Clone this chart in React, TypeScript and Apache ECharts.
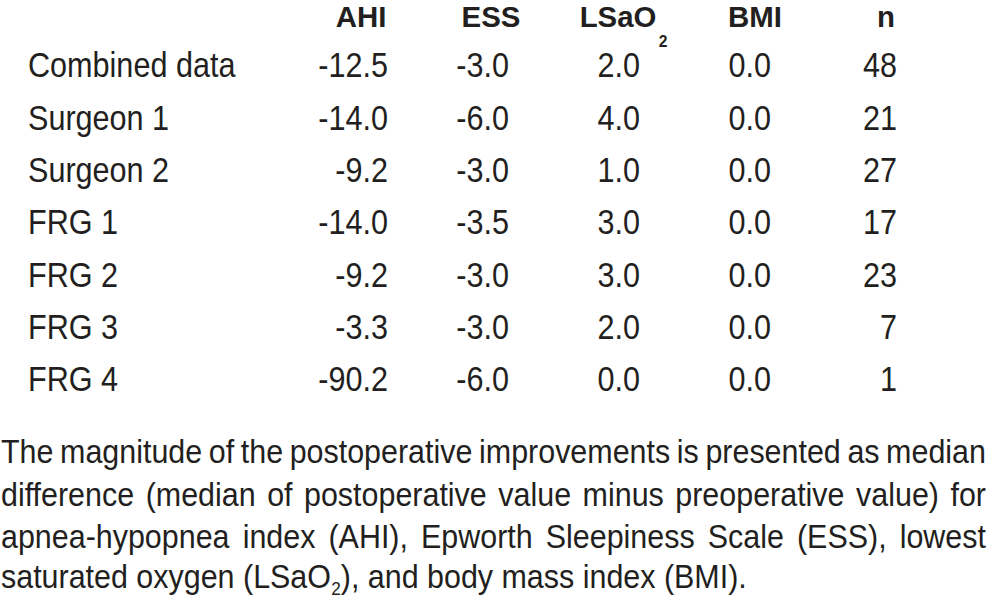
import React, { useEffect, useRef } from "react";
import * as echarts from "echarts";

const headers = ["AHI", "ESS", "LSaO", "BMI", "n"];
const rowLabels = ["Combined data", "Surgeon 1", "Surgeon 2", "FRG 1", "FRG 2", "FRG 3", "FRG 4"];
const ahi = [-12.5, -14.0, -9.2, -14.0, -9.2, -3.3, -90.2];
const ess = [-3.0, -6.0, -3.0, -3.5, -3.0, -3.0, -6.0];
const lsao2 = [2.0, 4.0, 1.0, 3.0, 3.0, 2.0, 0.0];
const bmi = [0.0, 0.0, 0.0, 0.0, 0.0, 0.0, 0.0];
const nCount = [48, 21, 27, 17, 23, 7, 1];
const captionJustified = [
  "The magnitude of the postoperative improvements is presented as median",
  "difference (median of postoperative value minus preoperative value) for",
  "apnea-hypopnea index (AHI), Epworth Sleepiness Scale (ESS), lowest",
];
const captionLastA = "saturated oxygen (LSaO";
const captionLastSub = "2";
const captionLastB = "), and body mass index (BMI).";

const FONT = "'Liberation Sans', Arial, Helvetica, sans-serif";
const COLOR = "#231f20";

export default function App() {
  const ref = useRef<HTMLDivElement>(null);
  useEffect(() => {
    if (!ref.current) return;
    const chart = echarts.init(ref.current, null, { renderer: "svg" });
    const canvas = document.createElement("canvas");
    const ctx = canvas.getContext("2d")!;
    const measure = (s: string, size: number, weight = "normal") => {
      ctx.font = `${weight} ${size}px ${FONT}`;
      return ctx.measureText(s).width;
    };
    const txt = (x: number, y: number, text: string, size: number, align: string, sx: number, weight = "normal") => ({
      type: "text",
      x,
      y,
      scaleX: sx,
      style: { text, font: `${weight} ${size}px ${FONT}`, fill: COLOR, align, verticalAlign: "middle" },
    });

    const elements: any[] = [];
    const headerCenters = [361, 491, 618, 755, 886];
    headers.forEach((h, i) => {
      elements.push(txt(headerCenters[i], 16, h, 30, "center", 0.98, "bold"));
    });
    elements.push(txt(663, 41, "2", 16, "center", 0.98, "bold"));

    const rowY0 = 65;
    const rowStep = 52.3;
    const cSize = 36;
    const cScale = 0.85;
    const colRights = [388, 509, 640, 771, 897];
    const fmt1 = (v: number) => v.toFixed(1);
    rowLabels.forEach((lab, r) => {
      const y = rowY0 + r * rowStep;
      elements.push(txt(28, y, lab, cSize, "left", cScale));
      const cells = [fmt1(ahi[r]), fmt1(ess[r]), fmt1(lsao2[r]), fmt1(bmi[r]), String(nCount[r])];
      cells.forEach((c, ci) => {
        elements.push(txt(colRights[ci], y, c, cSize, "right", cScale));
      });
    });

    // caption
    const pSize = 33.5;
    const subSize = 19;
    const pLeft = 1;
    const pRight = 986;
    const pY = [451, 494, 536, 576];
    const lastNatural = measure(captionLastA, pSize) + measure(captionLastSub, subSize) + measure(captionLastB, pSize);
    const pScale = 746 / lastNatural;
    captionJustified.forEach((line, li) => {
      const words = line.split(" ");
      const widths = words.map((w) => measure(w, pSize) * pScale);
      const total = widths.reduce((a, b) => a + b, 0);
      const gap = (pRight - pLeft - total) / (words.length - 1);
      let x = pLeft;
      words.forEach((w, wi) => {
        elements.push(txt(x, pY[li], w, pSize, "left", pScale));
        x += widths[wi] + gap;
      });
    });
    const wA = measure(captionLastA, pSize) * pScale;
    const wSub = measure(captionLastSub, subSize) * pScale;
    elements.push(txt(pLeft, pY[3], captionLastA, pSize, "left", pScale));
    elements.push(txt(pLeft + wA, pY[3] + 13, captionLastSub, subSize, "left", pScale));
    elements.push(txt(pLeft + wA + wSub, pY[3], captionLastB, pSize, "left", pScale));

    chart.setOption({
      animation: false,
      backgroundColor: "#ffffff",
      graphic: { elements },
    });
    return () => chart.dispose();
  }, []);
  return <div ref={ref} style={{ width: 989, height: 602, position: "absolute", left: 0, top: 0 }} />;
}
